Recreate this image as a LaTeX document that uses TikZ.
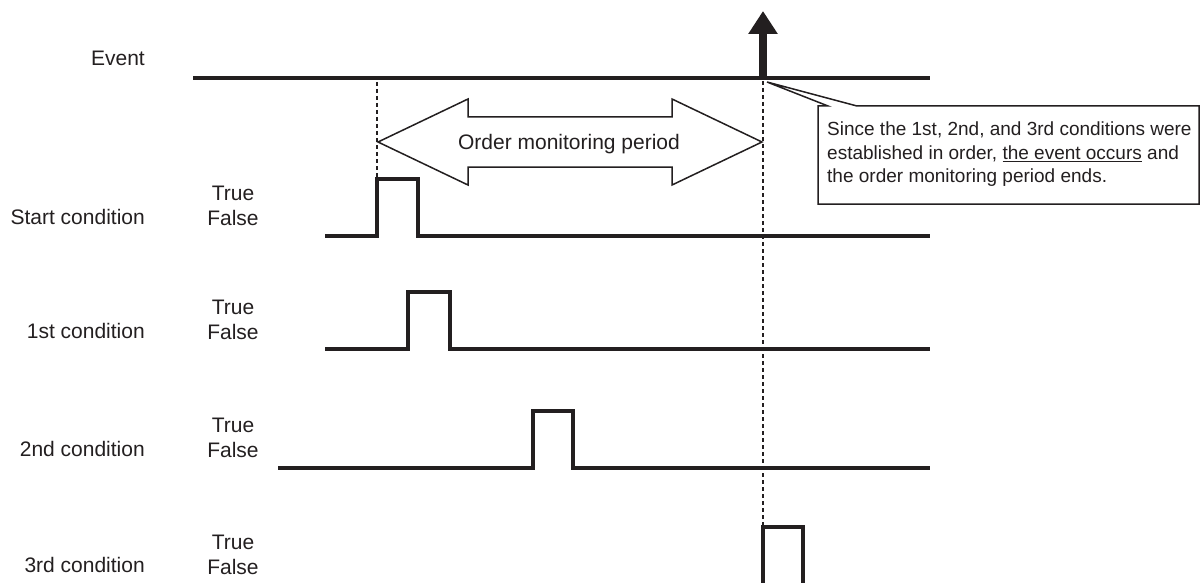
\documentclass[tikz,border=0pt]{standalone}
\usepackage{fontspec}
\setmainfont{Liberation Sans}
\usetikzlibrary{arrows.meta,positioning,calc}
\definecolor{cInk}{HTML}{231F20}
\tikzset{
  font=\fontsize{21}{25}\selectfont,
  sig/.style={draw=cInk, line width=3.8pt, line join=miter},
  guide/.style={draw=cInk, line width=2pt, dash pattern=on 4pt off 3pt},
  outline/.style={draw=cInk, fill=white, line width=1.5pt, line join=miter},
  rowlbl/.style={text=cInk, anchor=east, inner sep=0pt},
  tflbl/.style={text=cInk, align=center, inner sep=0pt},
  notetext/.style={text=cInk, align=left, anchor=north west, inner sep=0pt,
                   font=\fontsize{19}{23.5}\selectfont},
}
% one signal line: start, rise, fall, end, false level
\newcommand{\wave}[5]{%
  \draw[sig] (#1,#5) -- (#2,#5) -- (#2,#5-57) -- (#3,#5-57) -- (#3,#5) -- (#4,#5);}

\begin{document}
\begin{tikzpicture}[x=1pt, y=-1pt]
  \useasboundingbox (0,0) rectangle (1204,583);

  % row labels
  \node[rowlbl] (lEvent) at (145,58)  {Event};
  \node[rowlbl] (lStart) at (145,217) {Start condition};
  \node[rowlbl] (lFirst) at (145,331) {1st condition};
  \node[rowlbl] (lSecond) at (145,449) {2nd condition};
  \node[rowlbl] (lThird) at (145,565) {3rd condition};
  \node[tflbl] (tfStart)  at (233,205.5) {True\\False};
  \node[tflbl] (tfFirst)  at (233,319.5) {True\\False};
  \node[tflbl] (tfSecond) at (233,437.5) {True\\False};
  \node[tflbl] (tfThird)  at (233,554.5) {True\\False};

  % guides
  \coordinate (evt) at (763,78);
  \coordinate (evtop) at (763,11);
  \coordinate (startTop) at (377,178);
  \coordinate (thirdTop) at (763,527);
  \draw[guide] (377,82) -- (startTop);
  \draw[guide] (763,81) -- (thirdTop);

  % order monitoring period
  \draw[outline] (378,142) -- (468,99) -- (468,117) -- (672,117) -- (672,99)
    -- (762,142) -- (672,185) -- (672,167) -- (468,167) -- (468,185) -- cycle;
  \node[text=cInk, inner sep=0pt] (period) at (569,144) {Order monitoring period};

  % event
  \draw[sig] (193,78) -- (930,78);
  \draw[draw=cInk, line width=8pt, -{Triangle[width=28pt, length=23pt, color=cInk]}]
    (evt) -- (evtop);

  % signals
  \wave{325}{377}{418}{930}{236}
  \wave{325}{408}{450}{930}{349}
  \wave{278}{533}{573}{930}{468}
  \draw[sig] (763,585) -- (thirdTop) -- (803,527) -- (803,585);

  % note
  \draw[outline] (818,106) -- (828,106) -- (767,82) -- (857,106) -- (1199,106)
    -- (1199,204) -- (818,204) -- cycle;
  \node[notetext] (note) at (827,122)
    {Since the 1st, 2nd, and 3rd conditions were\\
     established in order, \underline{the event occurs} and\\
     the order monitoring period ends.};
\end{tikzpicture}
\end{document}
